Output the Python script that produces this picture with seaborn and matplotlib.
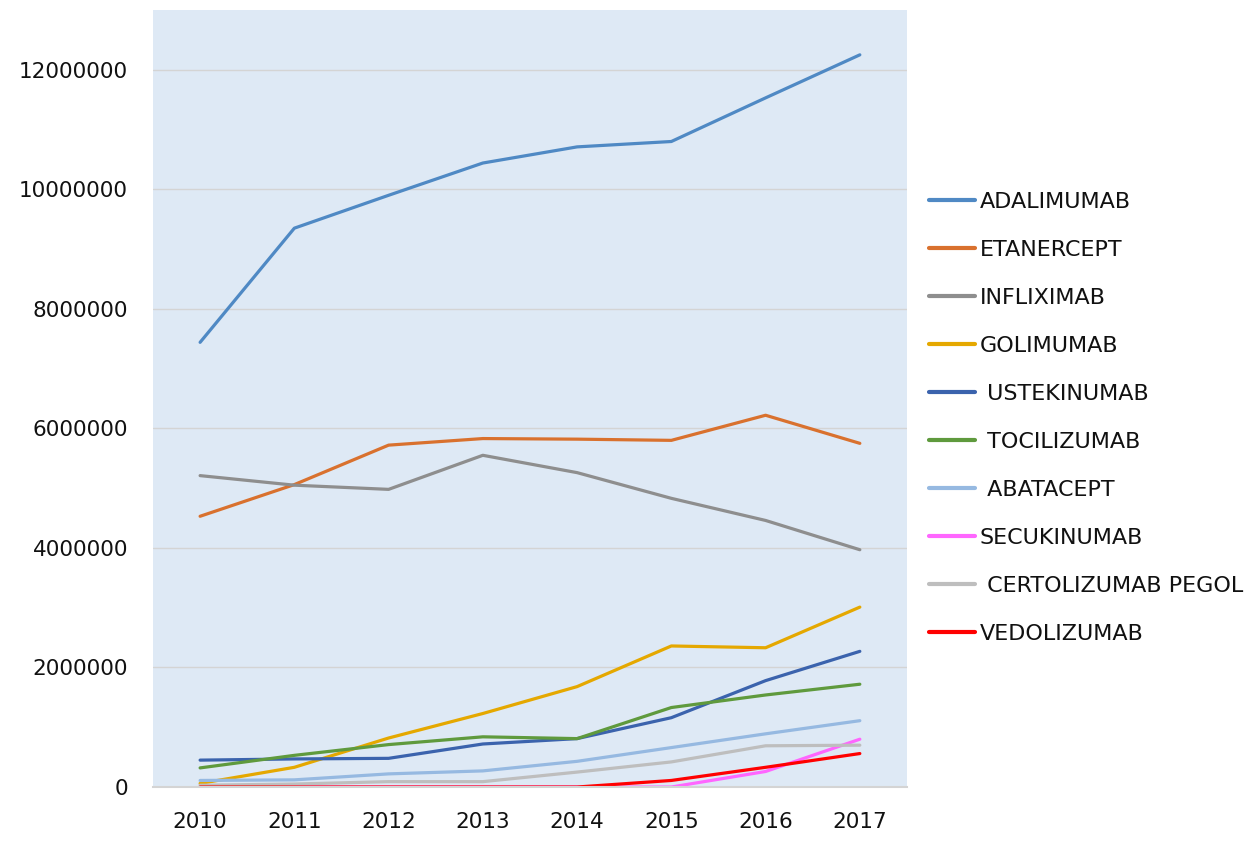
import matplotlib
matplotlib.use("Agg")
import matplotlib.pyplot as plt
import seaborn as sns
import pandas as pd

sns.set_style("white")
plt.rcParams['font.family'] = ['DejaVu Sans']

years = ["2010", "2011", "2012", "2013", "2014", "2015", "2016", "2017"]

adalimumab = [7440000, 9350000, 9900000, 10440000, 10710000, 10800000, 11530000, 12250000]
etanercept = [4530000, 5060000, 5720000, 5830000, 5820000, 5800000, 6220000, 5750000]
infliximab = [5210000, 5050000, 4980000, 5550000, 5260000, 4830000, 4460000, 3970000]
golimumab = [60000, 330000, 820000, 1230000, 1680000, 2360000, 2330000, 3010000]
ustekinumab = [450000, 470000, 480000, 720000, 810000, 1160000, 1780000, 2270000]
tocilizumab = [320000, 530000, 710000, 840000, 810000, 1330000, 1540000, 1720000]
abatacept = [110000, 120000, 220000, 270000, 430000, 660000, 890000, 1110000]
secukinumab = [0, 0, 0, 0, 0, 0, 260000, 800000]
certolizumab = [30000, 50000, 90000, 90000, 250000, 420000, 690000, 700000]
vedolizumab = [0, 0, 0, 0, 0, 110000, 330000, 560000]

names = ["ADALIMUMAB", "ETANERCEPT", "INFLIXIMAB", "GOLIMUMAB", " USTEKINUMAB",
         " TOCILIZUMAB", " ABATACEPT", "SECUKINUMAB", " CERTOLIZUMAB PEGOL", "VEDOLIZUMAB"]
series = [adalimumab, etanercept, infliximab, golimumab, ustekinumab,
          tocilizumab, abatacept, secukinumab, certolizumab, vedolizumab]
colors = ["#4F89C4", "#D9712E", "#8E8E8E", "#E5A800", "#3B63AD",
          "#5F9A3D", "#96B9E1", "#FF66FF", "#BEBEBE", "#FF0000"]

rows = []
for name, vals in zip(names, series):
    for i, v in enumerate(vals):
        rows.append({"year": i, "drug": name, "value": v})
df = pd.DataFrame(rows)

fig = plt.figure(figsize=(12.56, 8.48), dpi=100)
ax = fig.add_axes([0.1218, 0.0719, 0.6003, 0.9163])
ax.set_facecolor("#DEE9F5")

sns.lineplot(data=df, x="year", y="value", hue="drug", hue_order=names,
             palette=dict(zip(names, colors)), linewidth=2.3, ax=ax)

ax.set_xlim(-0.5, 7.5)
ax.set_ylim(0, 13000000)
ax.set_xticks(range(len(years)))
ax.set_xticklabels(years)
ax.set_yticks(range(0, 13000000, 2000000))
ax.set_yticklabels([str(v) for v in range(0, 13000000, 2000000)])
ax.yaxis.grid(True, color="#D4D4D4", linewidth=1)
ax.tick_params(axis="both", length=0, labelsize=15.5, pad=18, labelcolor="#111111")
ax.set_xlabel("")
ax.set_ylabel("")
for s in ["top", "right", "left"]:
    ax.spines[s].set_visible(False)
ax.spines["bottom"].set_color("#D4D4D4")
ax.spines["bottom"].set_linewidth(1.5)

handles, labels = ax.get_legend_handles_labels()
for h in handles:
    h.set_linewidth(3)
leg = ax.legend(handles, labels, loc="upper left", bbox_to_anchor=(0.734, 0.7815),
                bbox_transform=fig.transFigure, frameon=False, fontsize=16,
                labelspacing=1.26, handlelength=2.1, handletextpad=0.2,
                borderaxespad=0, borderpad=0.3)
for t in leg.get_texts():
    t.set_color("#111111")

plt.savefig("out.png", dpi=100)
